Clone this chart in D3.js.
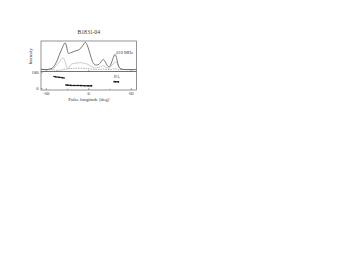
<!DOCTYPE html>
<html>
<head>
<meta charset="utf-8">
<script src="https://cdn.jsdelivr.net/npm/d3@7"></script>
<style>
  body { margin: 0; background: #fff; }
  text { font-family: "Liberation Serif", "DejaVu Serif", serif; fill: #333; }
</style>
</head>
<body>
<svg id="svg"></svg>
<script>
const width = 354;
const height = 274;

// pulse longitude (deg) for the profile curves
const lon = [-67.5, -60, -55, -52, -50.5, -48, -46, -44, -42, -40, -38, -36, -35, -33.6, -32.5, -31.5, -30.3, -29.3,
             -27.5, -26.5, -24, -21, -18, -15, -11, -8.5, -6.7, -5.3, -4, -2.5, 0.3, 3.2, 6, 8.5, 11, 14.5, 16.5, 18, 20,
             21.5, 23, 25.8, 28.6, 30, 31.5, 34.3, 37, 39, 41.3, 44, 47, 55, 67.5];
// total intensity (normalised)
const totalI = [0.01, 0.0, 0.02, 0.04, 0.08, 0.16, 0.25, 0.37, 0.5, 0.63, 0.75, 0.86, 0.92, 0.96, 0.93, 0.85, 0.7, 0.6,
                0.58, 0.6, 0.62, 0.65, 0.68, 0.7, 0.78, 0.86, 0.93, 0.98, 0.97, 0.9, 0.7, 0.45, 0.25, 0.18, 0.16, 0.19, 0.25, 0.3, 0.36,
                0.35, 0.3, 0.16, 0.1, 0.12, 0.2, 0.4, 0.55, 0.45, 0.2, 0.05, 0.01, 0.0, 0.0];
// linear polarisation
const linI = [0.0, 0.0, 0.0, 0.01, 0.03, 0.08, 0.14, 0.2, 0.26, 0.32, 0.4, 0.42, 0.38, 0.3, 0.2, 0.12, 0.05, 0.03,
              0.08, 0.14, 0.2, 0.22, 0.23, 0.24, 0.25, 0.24, 0.23, 0.22, 0.21, 0.2, 0.17, 0.12, 0.08, 0.06, 0.06, 0.08, 0.1, 0.12, 0.14,
              0.13, 0.1, 0.06, 0.05, 0.07, 0.12, 0.2, 0.27, 0.26, 0.14, 0.04, 0.01, 0.0, 0.0];
// circular polarisation
const circI = [0.0, 0.0, 0.0, 0.0, -0.01, -0.02, -0.03, -0.03, -0.02, -0.02, -0.01, 0.0, 0.01, 0.01, 0.02, 0.02, 0.02, 0.03,
               0.03, 0.04, 0.04, 0.04, 0.05, 0.05, 0.05, 0.05, 0.04, 0.04, 0.04, 0.03, 0.03, 0.02, 0.01, 0.0, 0.0, 0.0, 0.01, 0.01, 0.02,
               0.02, 0.01, 0.0, 0.0, 0.0, 0.01, 0.02, 0.03, 0.02, 0.01, 0.0, 0.0, 0.0, 0.0];

// position angle points
const paLon = [-49, -47, -45, -43, -41, -39, -37, -35,
               -32, -30, -28, -26, -24, -22, -20, -18, -16, -14, -12, -10, -8, -6, -4, -2, 0, 2, 4,
               36, 38, 40, 42];
const paVal = [136, 133, 131, 129, 127, 124, 122, 120,
               40, 38, 36, 36, 35, 35, 34, 34, 35, 34, 33, 33, 32, 32, 31, 31, 30, 30, 32,
               78, 76, 77, 75];
const paErr = [5, 4, 4, 3, 3, 3, 4, 5,
               9, 6, 5, 5, 5, 5, 5, 5, 5, 5, 5, 5, 5, 5, 5, 5, 6, 7, 9,
               7, 6, 6, 7];

const xTicks = [-60, 0, 60];
const xMinor = [-30, 30];
const paTicks = [0, 180];

const title = "B1831-04";
const freqLabel = "610 MHz";

let svg = d3.select("#svg").attr("width", width).attr("height", height);
svg.append("rect").attr("width", width).attr("height", height).attr("fill", "#fff");

const left = 41, right = 136.5;
const topY = 41, midY = 71.5, botY = 90;

let x = d3.scaleLinear().domain([-67.5, 67.5]).range([left, right]);
let yI = d3.scaleLinear().domain([-0.07, 1.03]).range([midY, topY]);
let yPA = d3.scaleLinear().domain([0, 180]).range([88.5, 72.7]);

let line = d3.line()
    .x((d, i) => x(lon[i]))
    .y(d => yI(d))
    .curve(d3.curveCatmullRom);

let g = svg.append("g");

// profile curves
g.append("path").attr("d", line(circI))
    .attr("fill", "none").attr("stroke", "#777").attr("stroke-width", 0.6)
    .attr("stroke-dasharray", "1.5,1");
g.append("path").attr("d", line(linI))
    .attr("fill", "none").attr("stroke", "#b5b5b5").attr("stroke-width", 0.7);
g.append("path").attr("d", line(totalI))
    .attr("fill", "none").attr("stroke", "#555").attr("stroke-width", 0.8);

// PA points with error bars
let pa = g.append("g");
paLon.forEach((l, i) => {
    pa.append("line")
        .attr("x1", x(l)).attr("x2", x(l))
        .attr("y1", yPA(paVal[i] - paErr[i])).attr("y2", yPA(paVal[i] + paErr[i]))
        .attr("stroke", "#222").attr("stroke-width", 0.8);
    pa.append("circle")
        .attr("cx", x(l)).attr("cy", yPA(paVal[i])).attr("r", 0.8)
        .attr("fill", "#111");
});

// panel boxes
g.append("rect").attr("x", left).attr("y", topY).attr("width", right - left).attr("height", midY - topY)
    .attr("fill", "none").attr("stroke", "#666").attr("stroke-width", 0.7);
g.append("rect").attr("x", left).attr("y", midY).attr("width", right - left).attr("height", botY - midY)
    .attr("fill", "none").attr("stroke", "#666").attr("stroke-width", 0.7);

// x ticks (inward)
xTicks.forEach(t => {
    g.append("line").attr("x1", x(t)).attr("x2", x(t)).attr("y1", botY).attr("y2", botY - 2)
        .attr("stroke", "#666").attr("stroke-width", 0.6);
    g.append("line").attr("x1", x(t)).attr("x2", x(t)).attr("y1", midY).attr("y2", midY - 1.5)
        .attr("stroke", "#666").attr("stroke-width", 0.6);
    g.append("text").attr("x", x(t)).attr("y", botY + 5.2)
        .attr("text-anchor", "middle").style("font-size", "4.6px")
        .text(t === 0 ? "0" : (t < 0 ? "-" + Math.abs(t) : t));
});
xMinor.forEach(t => {
    g.append("line").attr("x1", x(t)).attr("x2", x(t)).attr("y1", botY).attr("y2", botY - 1.2)
        .attr("stroke", "#666").attr("stroke-width", 0.5);
});

// PA ticks
paTicks.forEach(t => {
    g.append("line").attr("x1", left).attr("x2", left + 1.5).attr("y1", yPA(t)).attr("y2", yPA(t))
        .attr("stroke", "#666").attr("stroke-width", 0.6);
    g.append("text").attr("x", left - 2.5).attr("y", yPA(t) + 1.6)
        .attr("text-anchor", "end").style("font-size", "4.6px")
        .text(t);
});

// labels
svg.append("text").attr("x", (left + right) / 2).attr("y", 34)
    .attr("text-anchor", "middle").style("font-size", "5.6px").text(title);
svg.append("text").attr("x", 133).attr("y", 53.5)
    .attr("text-anchor", "end").style("font-size", "4.4px").text(freqLabel);
svg.append("text").attr("x", 119.5).attr("y", 78)
    .attr("text-anchor", "end").style("font-size", "4.6px").text("PA");
svg.append("text").attr("transform", "translate(31.5," + ((topY + midY) / 2) + ") rotate(-90)")
    .attr("text-anchor", "middle").style("font-size", "4.6px").text("Intensity");
svg.append("text").attr("x", (left + right) / 2).attr("y", 100.5)
    .attr("text-anchor", "middle").style("font-size", "4.8px").text("Pulse longitude [deg]");
</script>
</body>
</html>
